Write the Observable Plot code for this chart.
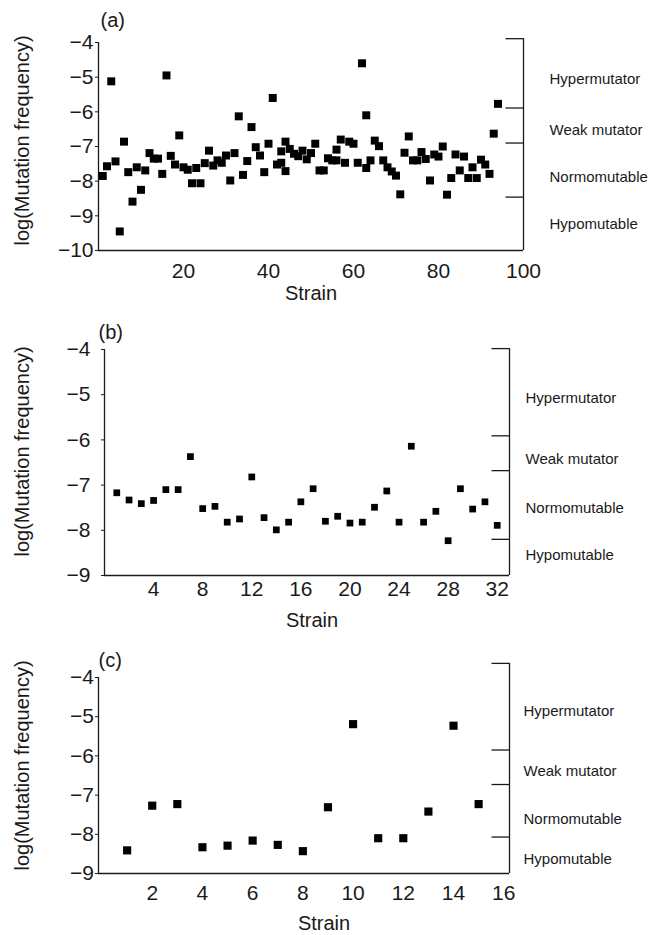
<!DOCTYPE html>
<html><head><meta charset="utf-8">
<script src="https://cdn.jsdelivr.net/npm/d3@7"></script>
<script src="https://cdn.jsdelivr.net/npm/@observablehq/plot@0.6"></script>
<style>
body{margin:0;background:#fff}
#chart svg{display:block}
</style>
</head><body><div id="chart"></div>
<script>
// ---------- data ----------
const strainA = [1,2,3,4,5,6,7,8,9,10,11,12,13,14,15,16,17,18,19,20,21,22,23,24,25,26,27,28,29,30,31,32,33,34,35,36,37,38,39,40,41,42,43,43,44,44,45,46,47,48,49,50,51,52,53,54,55,56,56,57,58,59,60,61,62,63,63,64,65,66,67,68,69,70,71,72,73,74,75,76,77,78,79,80,81,82,83,84,85,86,87,88,89,90,91,92,93,94];
const freqA = [-7.85,-7.57,-5.12,-7.43,-9.45,-6.86,-7.74,-8.59,-7.60,-8.25,-7.69,-7.19,-7.35,-7.35,-7.79,-4.95,-7.27,-7.52,-6.68,-7.60,-7.67,-8.06,-7.62,-8.06,-7.48,-7.12,-7.55,-7.40,-7.47,-7.26,-7.98,-7.19,-6.13,-7.82,-7.42,-6.44,-7.02,-7.26,-7.74,-6.92,-5.60,-7.52,-7.14,-7.47,-6.86,-7.71,-7.07,-7.21,-7.28,-7.12,-7.37,-7.19,-6.92,-7.69,-7.69,-7.34,-7.40,-7.40,-7.09,-6.80,-7.47,-6.86,-6.92,-7.47,-4.60,-7.62,-6.10,-7.40,-6.83,-6.99,-7.40,-7.60,-7.72,-7.84,-8.38,-7.18,-6.71,-7.40,-7.40,-7.16,-7.36,-7.98,-7.23,-7.29,-7.00,-8.39,-7.91,-7.23,-7.69,-7.29,-7.91,-7.60,-7.91,-7.38,-7.52,-7.79,-6.63,-5.77];

const strainB = [1,2,3,4,5,6,7,8,9,10,11,12,13,14,15,16,17,18,19,20,21,22,23,24,25,26,27,28,29,30,31,32];
const freqB = [-7.17,-7.33,-7.41,-7.34,-7.10,-7.10,-6.37,-7.52,-7.47,-7.82,-7.75,-6.82,-7.72,-7.99,-7.82,-7.37,-7.08,-7.80,-7.69,-7.84,-7.82,-7.49,-7.13,-7.82,-6.14,-7.82,-7.58,-8.23,-7.08,-7.53,-7.37,-7.89];

const strainC = [1,2,3,4,5,6,7,8,9,10,11,12,13,14,15];
const freqC = [-8.41,-7.27,-7.23,-8.33,-8.29,-8.16,-8.27,-8.43,-7.31,-5.19,-8.10,-8.10,-7.42,-5.23,-7.23];

const panelLabels = ["(a)", "(b)", "(c)"];
const xTitle = "Strain";
const yTitle = "log(Mutation frequency)";
const classNames = ["Hypermutator", "Weak mutator", "Normomutable", "Hypomutable"];

const xDomainA = [0, 100], xTicksA = [20, 40, 60, 80, 100];
const xDomainB = [0, 33], xTicksB = [4, 8, 12, 16, 20, 24, 28, 32];
const xDomainC = [-0.14, 16.23], xTicksC = [2, 4, 6, 8, 10, 12, 14, 16];
const yDomainA = [-10, -4], yTicksA = [-10, -9, -8, -7, -6, -5, -4];
const yDomainB = [-9, -4], yTicksB = [-9, -8, -7, -6, -5, -4];
const yDomainC = [-9, -4], yTicksC = [-9, -8, -7, -6, -5, -4];

// class bracket boundaries (top, hyper/weak, weak/normo, normo/hypo) and label levels
const bracketA = [-3.89, -5.89, -6.90, -8.46], classYA = [-5.05, -6.54, -7.88, -9.25];
const bracketB = [-3.98, -5.91, -6.68, -8.20], classYB = [-5.08, -6.43, -7.50, -8.56];
const bracketC = [-3.64, -5.85, -6.73, -8.07], classYC = [-4.85, -6.40, -7.62, -8.63];

// ---------- drawing ----------
const FONT = "'Liberation Sans', Arial, Helvetica, sans-serif";
const INK = "#1a1a1a";
const leftTick = len => ({draw(ctx) { ctx.moveTo(-len, 0); ctx.lineTo(0, 0); }});
const fmt = d => (d < 0 ? "\u2212" : "") + Math.abs(d);

function panel(cfg) {
  const pts = cfg.strain.map((s, i) => ({strain: s, freq: cfg.freq[i]}));
  return Plot.plot({
    width: 649,
    height: cfg.height,
    marginLeft: cfg.ml, marginRight: cfg.mr, marginTop: cfg.mt, marginBottom: cfg.mb,
    style: {fontFamily: FONT, fontSize: "20px", color: INK, background: "white", overflow: "visible"},
    x: {domain: cfg.xDomain},
    y: {domain: cfg.yDomain},
    marks: [
      Plot.axisX({ticks: cfg.xTicks, tickSize: 0, tickPadding: cfg.xPad, label: null, tickFormat: fmt, fontSize: 21}),
      Plot.axisY({ticks: cfg.yTicks, tickSize: 3, tickPadding: cfg.yPad, label: null, tickFormat: fmt, stroke: INK, fontSize: 21}),
      Plot.ruleX([cfg.xDomain[0]], {stroke: INK, strokeWidth: 1.3}),
      Plot.ruleY([cfg.yDomain[0]], {stroke: INK, strokeWidth: 1.3}),
      Plot.ruleX([cfg.xDomain[1]], {y1: cfg.bracket[0], y2: cfg.yDomain[0], stroke: INK, strokeWidth: 1.3}),
      Plot.dot(cfg.bracket, {y: d => d, frameAnchor: "right", symbol: leftTick(18), fill: "none", stroke: INK, strokeWidth: 1.3}),
      Plot.text(cfg.classNames, {y: (d, i) => cfg.classY[i], text: d => d, frameAnchor: "right", dx: cfg.classDx, textAnchor: "start", lineAnchor: "middle", fontSize: 15, fill: INK}),
      Plot.dot(pts, {x: "strain", y: "freq", symbol: "square", r: cfg.r, fill: "black", stroke: "none"}),
      Plot.text([cfg.tag], {text: d => d, frameAnchor: "top-left", textAnchor: "start", lineAnchor: "middle", dx: cfg.tagDx, dy: cfg.tagDy, fill: INK}),
      Plot.text([xTitle], {text: d => d, frameAnchor: "bottom", textAnchor: "middle", lineAnchor: "middle", dx: cfg.xtDx, dy: cfg.xtDy, fill: INK}),
      Plot.text([yTitle], {text: d => d, frameAnchor: "left", rotate: -90, textAnchor: "middle", lineAnchor: "middle", dx: cfg.ytDx, dy: cfg.ytDy, fill: INK})
    ]
  });
}

const chart = document.getElementById("chart");
chart.append(panel({
  strain: strainA, freq: freqA, tag: panelLabels[0], classNames,
  xDomain: xDomainA, xTicks: xTicksA, yDomain: yDomainA, yTicks: yTicksA,
  bracket: bracketA, classY: classYA,
  height: 307, ml: 98, mr: 126, mt: 42, mb: 57, r: 4.5,
  xPad: 13, yPad: 2, classDx: 26, tagDx: 2, tagDy: -22, xtDx: 0, xtDy: 43, ytDx: -76, ytDy: -6
}));
chart.append(panel({
  strain: strainB, freq: freqB, tag: panelLabels[1], classNames,
  xDomain: xDomainB, xTicks: xTicksB, yDomain: yDomainB, yTicks: yTicksB,
  bracket: bracketB, classY: classYB,
  height: 333, ml: 104, mr: 140, mt: 42, mb: 65, r: 3.8,
  xPad: 6, yPad: 11, classDx: 16, tagDx: -6, tagDy: -17, xtDx: 5, xtDy: 45, ytDx: -82, ytDy: -11
}));
chart.append(panel({
  strain: strainC, freq: freqC, tag: panelLabels[2], classNames,
  xDomain: xDomainC, xTicks: xTicksC, yDomain: yDomainC, yTicks: yTicksC,
  bracket: bracketC, classY: classYC,
  height: 295, ml: 98, mr: 140, mt: 37, mb: 62, r: 4.6,
  xPad: 12, yPad: 1.5, classDx: 14, tagDx: 0, tagDy: -17, xtDx: 20, xtDy: 50, ytDx: -76, ytDy: -10
}));
</script>
</body></html>
